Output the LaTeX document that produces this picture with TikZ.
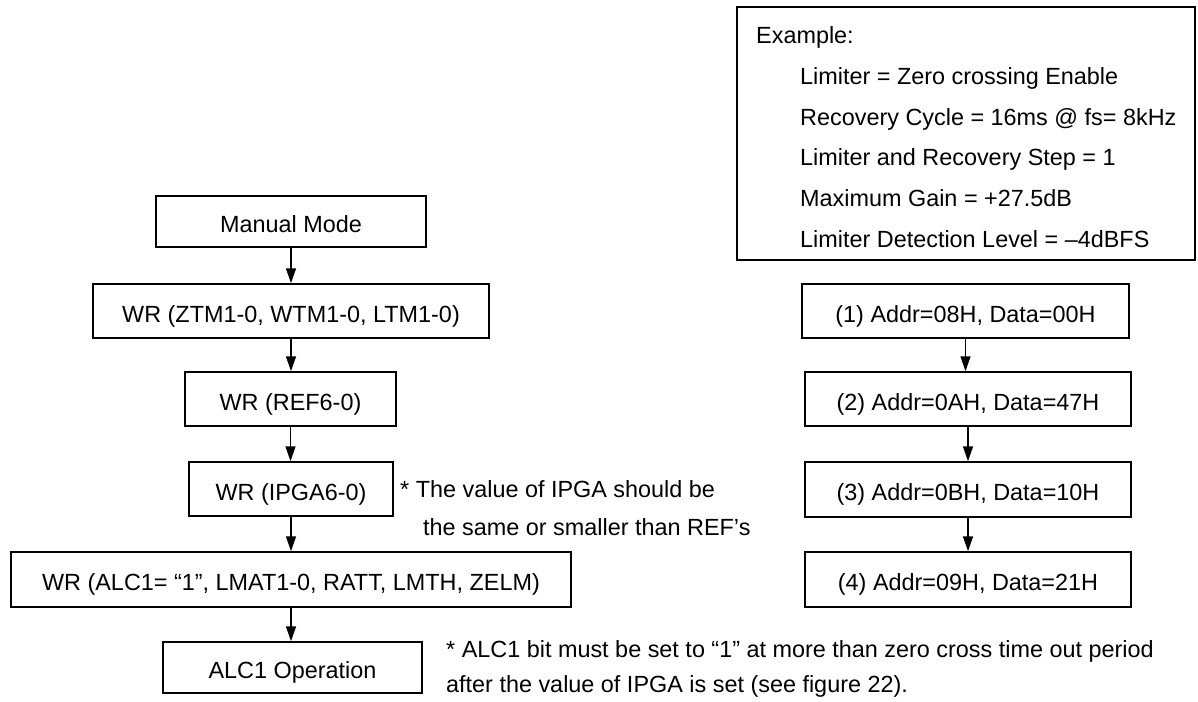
\documentclass[tikz,border=0pt]{standalone}
\usepackage{fontspec}
\setmainfont{Liberation Sans}
\usetikzlibrary{arrows.meta}
\begin{document}
\begin{tikzpicture}[x=1pt,y=-1pt,
  txt/.style={font=\fontsize{23.4}{28}\selectfont},
  box/.style={txt, draw, line width=1.5pt, inner sep=0pt, anchor=center, text height=22.8pt, text depth=0pt},
  note/.style={txt, inner sep=0pt, anchor=base west},
  arr/.style={line width=1.5pt, -{Triangle[length=15pt,width=10pt]}}]
\useasboundingbox (0,0) rectangle (1198,701);
% left column
\node[box, minimum width=270pt, minimum height=51pt] (mm) at (291,221.5) {Manual Mode};
\node[box, minimum width=396pt, minimum height=54pt] (ztm) at (291,311) {WR (ZTM1-0, WTM1-0, LTM1-0)};
\node[box, minimum width=211pt, minimum height=54pt] (ref) at (290.5,399) {WR (REF6-0)};
\node[box, minimum width=204pt, minimum height=54pt] (ipga) at (291,489) {WR (IPGA6-0)};
\node[box, minimum width=560pt, minimum height=55pt] (alc) at (291,579.5) {WR (ALC1= “1”, LMAT1-0, RATT, LMTH, ZELM)};
\node[box, minimum width=259pt, minimum height=51pt] (op) at (292.5,667.5) {ALC1 Operation};
\draw[arr] (mm.south) -- (ztm.north);
\draw[arr] (ztm.south) -- (ztm.south |- ref.north);
\draw[arr] (ref.south) -- (ref.south |- ipga.north);
\draw[arr] (ipga.south) -- (alc.north);
\draw[arr] (alc.south) -- (alc.south |- op.north);
% notes
\node[note] (n1a) at (400,497) {* The value of IPGA should be};
\node[note] (n1b) at (423,535) {the same or smaller than REF’s};
\node[note] (n2a) at (446,657) {* ALC1 bit must be set to “1” at more than zero cross time out period};
\node[note] (n2b) at (446,692) {after the value of IPGA is set (see figure 22).};
% example box
\node[draw, line width=1.5pt, inner sep=0pt, minimum width=458pt, minimum height=253pt] (ex) at (966,133.5) {};
\node[note] (e0) at (756,44) {Example:};
\node[note] (e1) at (800,84.6) {Limiter = Zero crossing Enable};
\node[note] (e2) at (800,125.2) {Recovery Cycle = 16ms @ fs= 8kHz};
\node[note] (e3) at (800,165.8) {Limiter and Recovery Step = 1};
\node[note] (e4) at (800,206.4) {Maximum Gain = +27.5dB};
\node[note] (e5) at (800,247) {Limiter Detection Level = –4dBFS};
% right column
\node[box, minimum width=327pt, minimum height=54pt] (r1) at (965.5,311) {(1) Addr=08H, Data=00H};
\node[box, minimum width=326pt, minimum height=54pt] (r2) at (968,399) {(2) Addr=0AH, Data=47H};
\node[box, minimum width=326pt, minimum height=55pt] (r3) at (968,489.5) {(3) Addr=0BH, Data=10H};
\node[box, minimum width=326pt, minimum height=55pt] (r4) at (968,579.5) {(4) Addr=09H, Data=21H};
\draw[arr] (r1.south) -- (r1.south |- r2.north);
\draw[arr] (r2.south) -- (r2.south |- r3.north);
\draw[arr] (r3.south) -- (r3.south |- r4.north);
\end{tikzpicture}
\end{document}
